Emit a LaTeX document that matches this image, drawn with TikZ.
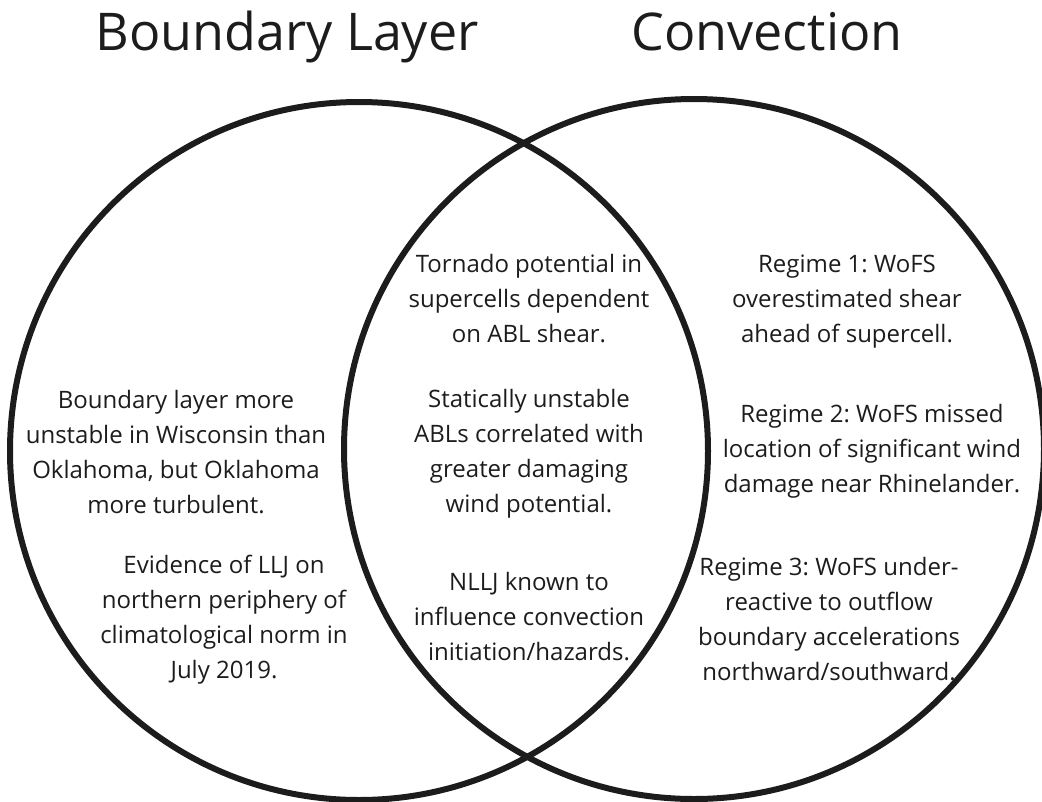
\documentclass[tikz,border=0pt]{standalone}
\usepackage{fontspec}
\setmainfont{Open Sans}
\usepackage{xcolor}
\definecolor{ink}{HTML}{1C1C1C}
\frenchspacing
\tikzset{%
	ring/.style     = {draw=ink, line width=6pt}, % Venn circle
	heading/.style  = {text=ink, inner sep=0pt, anchor=base, font=\fontsize{52}{60}\selectfont},
	note/.style     = {text=ink, inner sep=0pt, anchor=base, align=center, font=\fontsize{24}{35}\selectfont}, % placed by its last line
}

\begin{document}
\begin{tikzpicture}[x=1pt,y=-1pt]
	\useasboundingbox (0,0) rectangle (1042,801);
	% the two sets
	\draw [ring] (359,451) circle [radius=349pt];
	\draw [ring] (694,449) circle [radius=350pt];
	
	\node [heading] (blhead) at (287,50) {Boundary Layer};
	\node [heading] (cvhead) at (767,50) {Convection};
	
	% boundary layer only
	\node [note] (stab) at (176,513) {Boundary layer more\\unstable in Wisconsin than\\Oklahoma, but Oklahoma\\more turbulent.};
	\node [note] (llj) at (224,678) {Evidence of LLJ on\\northern periphery of\\climatological norm in\\July 2019.};
	
	% overlap
	\node [note] (torn) at (529,342) {Tornado potential in\\supercells dependent\\on ABL shear.};
	\node [note] (abl) at (529,512) {Statically unstable\\ABLs correlated with\\greater damaging\\wind potential.};
	\node [note] (nllj) at (529,660) {NLLJ known to\\influence convection\\initiation/hazards.};
	
	% convection only
	\node [note] (reg1) at (847,342) {Regime 1: WoFS\\overestimated shear\\ahead of supercell.};
	\node [note] (reg2) at (872,492) {Regime 2: WoFS missed\\location of significant wind\\damage near Rhinelander.};
	\node [note] (reg3) at (829,680) {Regime 3: WoFS under-\\reactive to outflow\\boundary accelerations\\northward/southward.};
\end{tikzpicture}
\end{document}
